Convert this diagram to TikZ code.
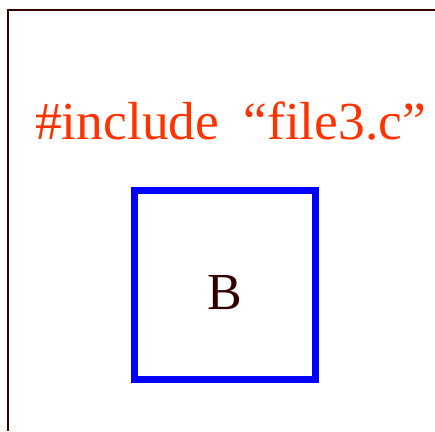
\documentclass[tikz,border=0pt]{standalone}
\usepackage{fontspec}
\setmainfont{Liberation Serif}
\usetikzlibrary{positioning}
\definecolor{framebrown}{HTML}{330000}
\definecolor{incred}{HTML}{FF3300}

\begin{document}
\begin{tikzpicture}[
    x=1pt, y=1pt,
    frame/.style={draw=framebrown, line width=1.6pt},
    include/.style={inner sep=0pt, anchor=base west, text=incred, font=\fontsize{53.5}{60}\selectfont},
    module/.style={rectangle, draw=blue, line width=7pt, minimum width=181pt, minimum height=189pt, text height=48pt, text depth=0pt, text=framebrown, font=\fontsize{52}{56}\selectfont}
]
\useasboundingbox (0,0) rectangle (435,431);

% Frame corner
\coordinate (corner) at (8,421);
\coordinate (topend) at (435,421);
\coordinate (leftend) at (8,0);
\draw[frame] (topend) -- (corner) -- (leftend);

% Include line
\node[include] (inc) at (35,291) {\#include\hspace{0.45em}“file3.c”};

% Module box
\node[module] (modB) at (225,146) {B};

\end{tikzpicture}
\end{document}
